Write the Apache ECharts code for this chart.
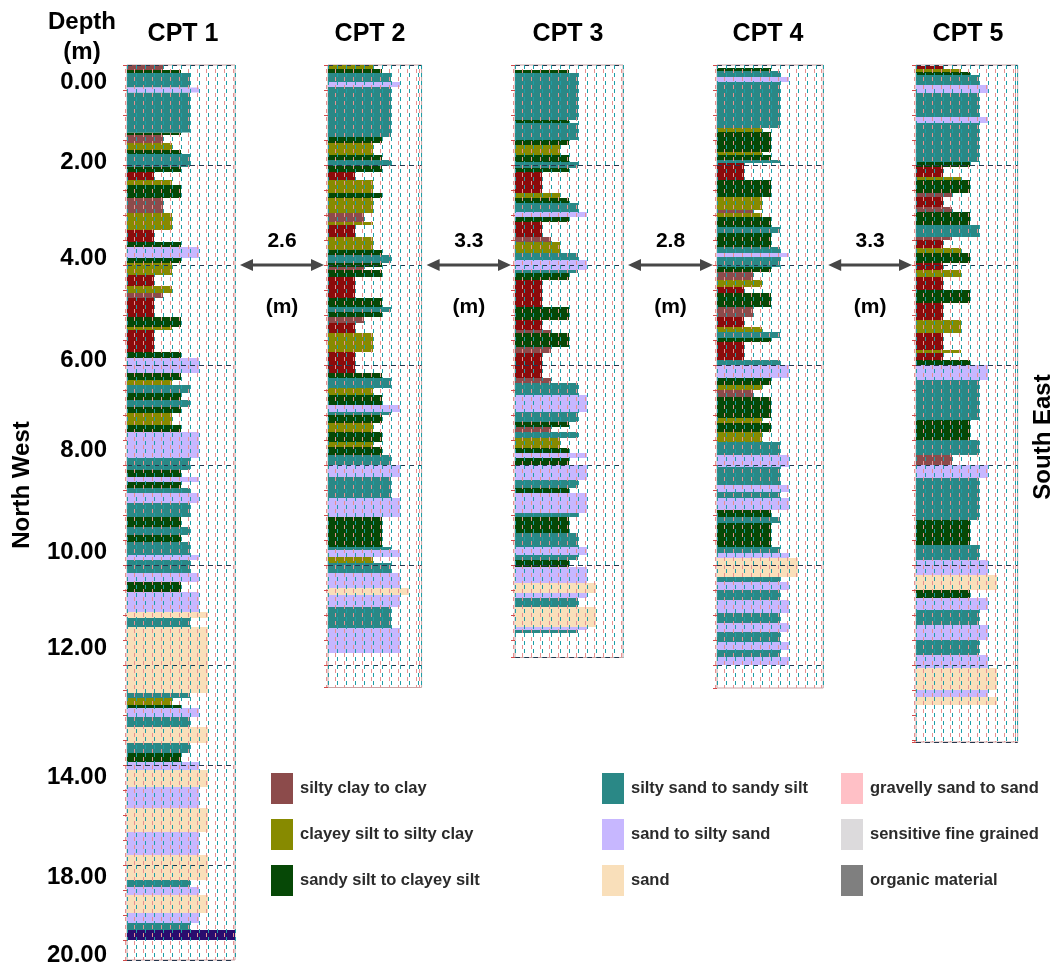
<!DOCTYPE html>
<html>
<head>
<meta charset="utf-8">
<script src="https://cdn.jsdelivr.net/npm/echarts@6/dist/echarts.min.js"></script>
<style>
html, body { margin: 0; padding: 0; background: #fff; }
#chart { width: 1060px; height: 970px; }
</style>
</head>
<body>
<div id="chart"></div>
<script>
// soil behaviour type zones (1..12) used by the profiles
var zoneNames = {
    1: 'sensitive fine grained', 2: 'organic material', 3: 'clay',
    4: 'silty clay to clay', 5: 'clayey silt to silty clay', 6: 'sandy silt to clayey silt',
    7: 'silty sand to sandy silt', 8: 'sand to silty sand', 9: 'sand',
    10: 'gravelly sand to sand', 12: 'sand to clayey sand'
};
var zoneColors = {
    1: '#dcdadc', 2: '#7f7f7f', 3: '#8b0b0b', 4: '#8c4b4b', 5: '#878a00',
    6: '#064806', 7: '#2a8886', 8: '#c7b7ff', 9: '#f9dfba', 10: '#ffc0c6', 12: '#2a0c6e'
};

// layers: [top depth (m), bottom depth (m), SBT zone]
var cpt1 = [[0,0.1,4],[0.1,0.16,6],[0.16,0.45,7],[0.45,0.55,8],[0.55,1.35,7],[1.35,1.4,6],[1.4,1.56,4],[1.56,1.7,5],[1.7,1.78,6],[1.78,2.04,7],[2.04,2.14,6],[2.14,2.3,3],[2.3,2.4,5],[2.4,2.66,6],[2.66,2.96,4],[2.96,3.3,5],[3.3,3.54,3],[3.54,3.64,6],[3.64,3.86,8],[3.86,3.96,6],[3.96,4.2,5],[4.2,4.42,3],[4.42,4.56,5],[4.56,4.66,4],[4.66,5.04,3],[5.04,5.24,6],[5.24,5.3,5],[5.3,5.74,3],[5.74,5.86,6],[5.86,6.16,8],[6.16,6.3,6],[6.3,6.4,5],[6.4,6.56,7],[6.56,6.7,6],[6.7,6.84,7],[6.84,6.96,6],[6.96,7.2,5],[7.2,7.34,6],[7.34,7.86,8],[7.86,8.1,7],[8.1,8.24,6],[8.24,8.34,8],[8.34,8.46,6],[8.46,8.56,7],[8.56,8.76,8],[8.76,9.04,7],[9.04,9.24,6],[9.24,9.4,7],[9.4,9.54,6],[9.54,9.8,7],[9.8,9.9,8],[9.9,10.16,7],[10.16,10.34,8],[10.34,10.54,6],[10.54,10.94,8],[10.94,11.06,9],[11.06,11.24,7],[11.24,12.56,9],[12.56,12.66,7],[12.66,12.8,5],[12.8,12.86,6],[12.86,13.04,8],[13.04,13.24,7],[13.24,13.56,9],[13.56,13.76,7],[13.76,13.94,6],[13.94,14.1,8],[14.1,14.44,9],[14.44,14.86,8],[14.86,15.34,9],[15.34,15.8,8],[15.8,16.3,9],[16.3,16.44,7],[16.44,16.6,8],[16.6,16.96,9],[16.96,17.16,8],[17.16,17.3,7],[17.3,17.5,12]];
var cpt2 = [[0,0.08,5],[0.08,0.16,6],[0.16,0.34,7],[0.34,0.44,8],[0.44,1.44,7],[1.44,1.56,6],[1.56,1.8,5],[1.8,1.9,6],[1.9,2.02,7],[2.02,2.14,6],[2.14,2.3,3],[2.3,2.56,5],[2.56,2.66,6],[2.66,2.96,5],[2.96,3.14,4],[3.14,3.2,5],[3.2,3.44,3],[3.44,3.7,5],[3.7,3.8,6],[3.8,3.96,7],[3.96,4.04,6],[4.04,4.1,4],[4.1,4.24,6],[4.24,4.66,3],[4.66,4.84,6],[4.84,4.94,7],[4.94,5.04,6],[5.04,5.16,4],[5.16,5.36,3],[5.36,5.74,5],[5.74,6.16,3],[6.16,6.26,6],[6.26,6.46,7],[6.46,6.6,5],[6.6,6.8,6],[6.8,6.94,8],[6.94,7.0,7],[7.0,7.16,6],[7.16,7.34,5],[7.34,7.54,6],[7.54,7.64,5],[7.64,7.8,6],[7.8,8.0,7],[8.0,8.24,8],[8.24,8.66,7],[8.66,9.04,8],[9.04,9.64,6],[9.64,9.7,7],[9.7,9.84,8],[9.84,9.96,5],[9.96,10.16,7],[10.16,10.46,8],[10.46,10.6,9],[10.6,10.84,8],[10.84,11.26,7],[11.26,11.76,8]];
var cpt3 = [[0.1,0.16,6],[0.16,1.1,7],[1.1,1.16,6],[1.16,1.5,7],[1.5,1.6,6],[1.6,1.8,5],[1.8,1.94,6],[1.94,2.06,7],[2.06,2.14,6],[2.14,2.56,3],[2.56,2.66,5],[2.66,2.76,6],[2.76,2.94,7],[2.94,3.04,8],[3.04,3.14,6],[3.14,3.44,3],[3.44,3.54,4],[3.54,3.76,5],[3.76,3.9,7],[3.9,4.1,8],[4.1,4.16,7],[4.16,4.3,6],[4.3,4.84,3],[4.84,5.1,6],[5.1,5.3,3],[5.3,5.36,4],[5.36,5.64,6],[5.64,5.76,4],[5.76,6.26,3],[6.26,6.36,4],[6.36,6.6,7],[6.6,6.94,8],[6.94,7.14,7],[7.14,7.24,6],[7.24,7.34,4],[7.34,7.46,7],[7.46,7.66,5],[7.66,7.76,6],[7.76,7.86,8],[7.86,8.0,6],[8.0,8.3,8],[8.3,8.46,7],[8.46,8.56,6],[8.56,8.96,8],[8.96,9.04,7],[9.04,9.36,6],[9.36,9.64,7],[9.64,9.8,8],[9.8,9.9,7],[9.9,10.04,6],[10.04,10.36,8],[10.36,10.56,9],[10.56,10.66,8],[10.66,10.84,7],[10.84,11.24,9],[11.24,11.3,8],[11.3,11.36,7]];
var cpt4 = [[0.06,0.12,6],[0.12,0.24,7],[0.24,0.34,8],[0.34,1.26,7],[1.26,1.34,5],[1.34,1.74,6],[1.74,1.8,5],[1.8,1.9,6],[1.9,1.96,7],[1.96,2.3,3],[2.3,2.64,6],[2.64,2.9,5],[2.9,2.96,4],[2.96,3.04,5],[3.04,3.24,6],[3.24,3.36,7],[3.36,3.64,6],[3.64,3.76,7],[3.76,3.84,8],[3.84,4.04,7],[4.04,4.14,6],[4.14,4.3,4],[4.3,4.44,5],[4.44,4.56,3],[4.56,4.84,6],[4.84,5.04,4],[5.04,5.24,3],[5.24,5.34,5],[5.34,5.46,7],[5.46,5.54,6],[5.54,5.9,3],[5.9,6.0,7],[6.0,6.26,8],[6.26,6.4,6],[6.4,6.5,5],[6.5,6.64,4],[6.64,7.06,6],[7.06,7.16,5],[7.16,7.34,6],[7.34,7.54,5],[7.54,7.8,7],[7.8,8.04,8],[8.04,8.4,7],[8.4,8.54,8],[8.54,8.66,7],[8.66,8.9,8],[8.9,9.04,6],[9.04,9.16,7],[9.16,9.64,6],[9.64,9.76,7],[9.76,9.86,8],[9.86,10.24,9],[10.24,10.34,7],[10.34,10.5,8],[10.5,10.7,7],[10.7,10.96,8],[10.96,11.16,7],[11.16,11.34,8],[11.34,11.54,7],[11.54,11.7,8],[11.7,11.84,7],[11.84,12.0,8]];
var cpt5 = [[0.02,0.08,3],[0.08,0.14,5],[0.14,0.2,6],[0.2,0.4,7],[0.4,0.56,8],[0.56,1.04,7],[1.04,1.16,8],[1.16,1.94,7],[1.94,2.04,6],[2.04,2.24,3],[2.24,2.3,5],[2.3,2.56,6],[2.56,2.64,4],[2.64,2.84,3],[2.84,2.94,4],[2.94,3.2,6],[3.2,3.44,7],[3.44,3.5,4],[3.5,3.66,3],[3.66,3.76,5],[3.76,3.96,6],[3.96,4.1,3],[4.1,4.24,5],[4.24,4.5,3],[4.5,4.76,6],[4.76,5.1,3],[5.1,5.36,5],[5.36,5.7,3],[5.7,5.76,5],[5.76,5.9,3],[5.9,6.0,6],[6.0,6.3,8],[6.3,7.1,7],[7.1,7.5,6],[7.5,7.8,7],[7.8,8.0,4],[8.0,8.26,8],[8.26,9.1,7],[9.1,9.6,6],[9.6,9.9,7],[9.9,10.2,8],[10.2,10.5,9],[10.5,10.66,6],[10.66,10.9,8],[10.9,11.2,7],[11.2,11.5,8],[11.5,11.8,7],[11.8,12.06,8],[12.06,12.5,9],[12.5,12.64,8],[12.64,12.8,9]];

var cptNames = ['CPT 1', 'CPT 2', 'CPT 3', 'CPT 4', 'CPT 5'];
var cptLayers = [cpt1, cpt2, cpt3, cpt4, cpt5];
var cptDepth = [17.9, 12.45, 11.85, 12.46, 13.54];
var cptZoneMax = [12, 10.4, 12, 11.8, 11.3];
var spacings = ['2.6', '3.3', '2.8', '3.3'];
var depthLabels = ['0.00', '2.00', '4.00', '6.00', '8.00', '10.00', '12.00', '14.00', '18.00', '20.00'];
var legendCols = [
    ['silty clay to clay', 'clayey silt to silty clay', 'sandy silt to clayey silt'],
    ['silty sand to sandy silt', 'sand to silty sand', 'sand'],
    ['gravelly sand to sand', 'sensitive fine grained', 'organic material']
];

// layout
var gridLeft = [127, 328, 515, 717, 916];
var gridTop = 65;
var pxPerZone = 9, pxPerMetre = 50;
var depthLabelY = [82, 162, 258, 360, 450, 552, 648, 777, 877, 955];
var titleX = [183, 370, 568, 768, 968];
var legendLeft = [266, 597, 836];
var arrowDepth = 4;
var font24 = 'bold 24px "Liberation Sans", Arial, sans-serif';
var font21 = 'bold 21px "Liberation Sans", Arial, sans-serif';

var chart = echarts.init(document.getElementById('chart'));

function renderLayer(params, api) {
    var p0 = api.coord([0, api.value(0)]);
    var p1 = api.coord([api.value(2), api.value(1)]);
    return {
        type: 'rect',
        shape: { x: p0[0], y: p0[1], width: p1[0] - p0[0], height: p1[1] - p0[1] },
        style: api.style()
    };
}

var grids = [], xAxes = [], yAxes = [], series = [];
var clear = 'rgba(0,0,0,0)';
for (var i = 0; i < 5; i++) {
    var w = cptZoneMax[i] * pxPerZone, h = cptDepth[i] * pxPerMetre;
    grids.push({ left: gridLeft[i], top: gridTop, width: w, height: h, show: true,
        borderColor: '#c9a4a4', borderWidth: 1 });
    xAxes.push({ gridIndex: i, type: 'value', min: 0, max: cptZoneMax[i], interval: 1, z: 3,
        axisLine: { show: false }, axisTick: { show: false }, axisLabel: { show: false },
        splitLine: { lineStyle: { color: '#1d9fa7', type: [4, 4], width: 1 } } });
    yAxes.push({ gridIndex: i, type: 'value', inverse: true, min: 0, max: cptDepth[i], interval: 0.5,
        position: 'right', z: 3,
        axisLine: { show: false }, axisLabel: { show: false },
        axisTick: { show: true, inside: true, length: 4, lineStyle: { color: '#d24a4a' } },
        splitLine: { lineStyle: { color: ['#26364c', clear, clear, clear], type: [5, 4], width: 1 } } });
}
// second set of dashed verticals (the reddish ones), offset by 2px
for (var j = 0; j < 5; j++) {
    grids.push({ left: gridLeft[j] - 2, top: gridTop, width: cptZoneMax[j] * pxPerZone,
        height: cptDepth[j] * pxPerMetre, show: false });
    xAxes.push({ gridIndex: 5 + j, type: 'value', min: 0, max: cptZoneMax[j], interval: 1, z: 3,
        axisLine: { show: false }, axisTick: { show: false }, axisLabel: { show: false },
        splitLine: { lineStyle: { color: '#e89090', type: [4, 4], dashOffset: 4, width: 1 } } });
    yAxes.push({ gridIndex: 5 + j, type: 'value', show: false, min: 0, max: 1 });
}

cptLayers.forEach(function (layers, i) {
    var byZone = {};
    layers.forEach(function (l) {
        (byZone[l[2]] = byZone[l[2]] || []).push(l);
    });
    Object.keys(byZone).forEach(function (z) {
        series.push({
            type: 'custom', name: zoneNames[z], xAxisIndex: i, yAxisIndex: i,
            renderItem: renderLayer, encode: { x: 2, y: [0, 1] },
            itemStyle: { color: zoneColors[z] }, data: byZone[z], z: 2, silent: true
        });
    });
});
// legend entries for zones that do not occur in these profiles
[1, 2, 10].forEach(function (z) {
    series.push({ type: 'custom', name: zoneNames[z], xAxisIndex: 0, yAxisIndex: 0,
        renderItem: renderLayer, itemStyle: { color: zoneColors[z] }, data: [] });
});

var legends = legendCols.map(function (names, k) {
    return {
        data: names, orient: 'vertical', left: legendLeft[k], top: 768, icon: 'rect',
        itemWidth: 22, itemHeight: 31, itemGap: 15, selectedMode: false,
        textStyle: { fontFamily: '"Liberation Sans", Arial, sans-serif',
            fontWeight: 'bold', fontSize: 16.5, color: '#2b2b2b', padding: [0, 0, 0, 2] }
    };
});

var graphic = [];
graphic.push({ type: 'text', x: 82, y: 22, style: { text: 'Depth', font: font24, align: 'center', verticalAlign: 'middle', fill: '#000' } });
graphic.push({ type: 'text', x: 82, y: 52, style: { text: '(m)', font: font24, align: 'center', verticalAlign: 'middle', fill: '#000' } });
depthLabels.forEach(function (t, k) {
    graphic.push({ type: 'text', x: 107, y: depthLabelY[k],
        style: { text: t, font: font24, align: 'right', verticalAlign: 'middle', fill: '#000' } });
});
cptNames.forEach(function (t, k) {
    graphic.push({ type: 'text', x: titleX[k], y: 34,
        style: { text: t, font: 'bold 25px "Liberation Sans", Arial, sans-serif', align: 'center', verticalAlign: 'middle', fill: '#000' } });
});
graphic.push({ type: 'text', x: 22, y: 485, rotation: Math.PI / 2,
    style: { text: 'North West', font: font24, align: 'center', verticalAlign: 'middle', fill: '#000' } });
graphic.push({ type: 'text', x: 1043, y: 437, rotation: Math.PI / 2,
    style: { text: 'South East', font: font24, align: 'center', verticalAlign: 'middle', fill: '#000' } });

chart.setOption({
    backgroundColor: '#fff',
    animation: false,
    grid: grids,
    xAxis: xAxes,
    yAxis: yAxes,
    legend: legends,
    series: series,
    graphic: graphic
});

// spacing arrows between neighbouring soundings, drawn at 4 m
spacings.forEach(function (s, k) {
    var a = chart.convertToPixel({ gridIndex: k }, [cptZoneMax[k], arrowDepth]);
    var b = chart.convertToPixel({ gridIndex: k + 1 }, [0, arrowDepth]);
    var x0 = a[0] + 5, x1 = b[0] - 4, y = a[1], mid = (x0 + x1) / 2;
    graphic.push({ type: 'line', shape: { x1: x0 + 10, y1: y, x2: x1 - 10, y2: y }, style: { stroke: '#474747', lineWidth: 3 } });
    graphic.push({ type: 'polygon', shape: { points: [[x0, y], [x0 + 13, y - 6], [x0 + 13, y + 6]] }, style: { fill: '#474747' } });
    graphic.push({ type: 'polygon', shape: { points: [[x1, y], [x1 - 13, y - 6], [x1 - 13, y + 6]] }, style: { fill: '#474747' } });
    graphic.push({ type: 'text', x: mid, y: y - 24, style: { text: s, font: font21, align: 'center', verticalAlign: 'middle', fill: '#000' } });
    graphic.push({ type: 'text', x: mid, y: y + 42, style: { text: '(m)', font: font21, align: 'center', verticalAlign: 'middle', fill: '#000' } });
});
chart.setOption({ graphic: graphic });

window.addEventListener('resize', function () {
    chart.resize();
});
</script>
</body>
</html>
